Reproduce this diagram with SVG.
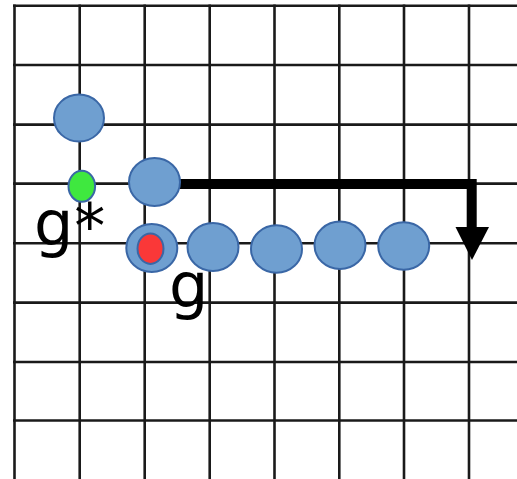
<svg xmlns="http://www.w3.org/2000/svg" width="517" height="479" viewBox="0 0 517 479">
<style>
.grid line{stroke:#1a1a1a;stroke-width:2.6}
.node ellipse{fill:#6f9fd0;stroke:#3a67a6;stroke-width:2}
.lbl{font-family:"DejaVu Sans",sans-serif;font-size:62px;fill:#000}
</style>
<rect width="517" height="479" fill="#fff"/>
<g class="grid" id="grid">
<line x1="14.5" y1="4.5" x2="14.5" y2="479"/>
<line x1="79.7" y1="4.5" x2="79.7" y2="479"/>
<line x1="144.7" y1="4.5" x2="144.7" y2="479"/>
<line x1="209.7" y1="4.5" x2="209.7" y2="479"/>
<line x1="274.5" y1="4.5" x2="274.5" y2="479"/>
<line x1="339.3" y1="4.5" x2="339.3" y2="479"/>
<line x1="404" y1="4.5" x2="404" y2="479"/>
<line x1="469" y1="4.5" x2="469" y2="479"/>
<line x1="13" y1="5.7" x2="517" y2="5.7"/>
<line x1="13" y1="65" x2="517" y2="65"/>
<line x1="13" y1="124.6" x2="517" y2="124.6"/>
<line x1="13" y1="183.6" x2="517" y2="183.6"/>
<line x1="13" y1="243.3" x2="517" y2="243.3"/>
<line x1="13" y1="302.6" x2="517" y2="302.6"/>
<line x1="13" y1="362" x2="517" y2="362"/>
<line x1="13" y1="420.5" x2="517" y2="420.5"/>
</g>
<g id="connectors">
<polyline points="178,184 471.7,184 471.7,230" fill="none" stroke="#000" stroke-width="10"/>
<polygon points="455.5,227 489,227 472,260" fill="#000"/>
</g>
<g class="node" id="n-top"><ellipse cx="79" cy="118" rx="25" ry="23.5"/></g>
<g class="node" id="n-start"><ellipse cx="154.5" cy="182" rx="25.5" ry="24"/></g>
<g class="node" id="n-g"><ellipse cx="151.8" cy="248" rx="25.5" ry="24"/><ellipse cx="150.5" cy="248.7" rx="13" ry="15.2" style="fill:#fa3838"/></g>
<g class="node" id="n-2"><ellipse cx="213" cy="247" rx="25.5" ry="24"/></g>
<g class="node" id="n-3"><ellipse cx="276.5" cy="249" rx="25.5" ry="23.7"/></g>
<g class="node" id="n-4"><ellipse cx="340" cy="245.3" rx="25.5" ry="23.7"/></g>
<g class="node" id="n-5"><ellipse cx="403.7" cy="246" rx="25.5" ry="23.7"/></g>
<g class="node" id="n-gstar"><ellipse cx="81.8" cy="186.3" rx="13.3" ry="15.5" style="fill:#3fe83f"/></g>
<text class="lbl" x="34" y="244.5">g<tspan dx="1" dy="3">*</tspan></text>
<text class="lbl" x="169" y="307">g</text>
</svg>
